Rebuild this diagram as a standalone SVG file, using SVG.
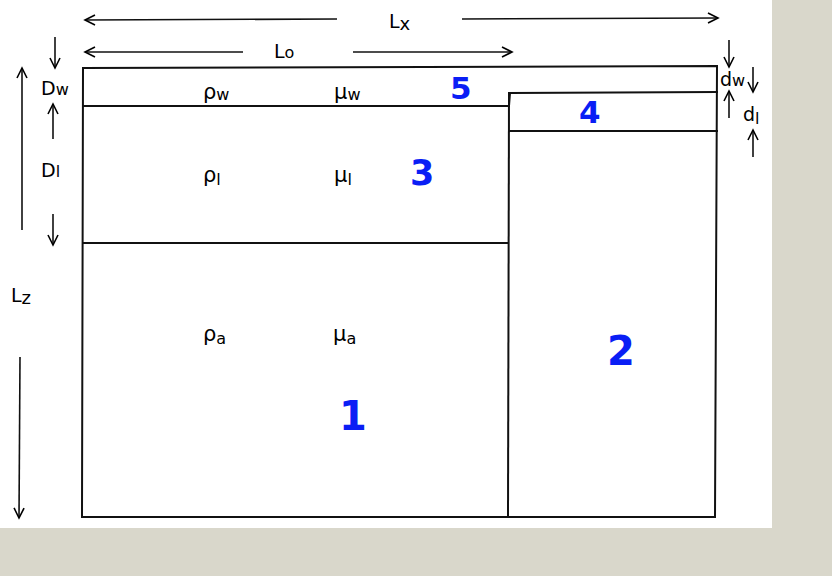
<svg xmlns="http://www.w3.org/2000/svg" width="832" height="576" viewBox="0 0 832 576">
<defs>
<marker id="ah" markerUnits="userSpaceOnUse" markerWidth="14" markerHeight="14" viewBox="0 0 14 14" refX="12" refY="7" orient="auto">
<path d="M2,2 L12,7 L2,12" fill="none" stroke="#000" stroke-width="1.6"/>
</marker>
</defs>
<style>
.ln{fill:none;stroke:#111;stroke-width:2;stroke-linecap:square}
.ar{fill:none;stroke:#111;stroke-width:1.6;marker-end:url(#ah)}
.lb{font-family:"DejaVu Sans",sans-serif;font-size:19px;fill:#000}
.sb{font-size:16px}
.gk{font-family:"DejaVu Sans",sans-serif;font-size:21px;fill:#000}
.num{font-family:"DejaVu Sans",sans-serif;font-weight:bold;fill:#0a1ef5}
</style>
<rect x="0" y="0" width="832" height="576" fill="#d9d7cb"/>
<rect x="0" y="0" width="772" height="528" fill="#fff"/>

<g id="domain">
<path class="ln" d="M83,68 L717,66 L715,517 L82,517 Z"/>
</g>
<g id="layer5">
<path class="ln" d="M83,106 L509,106 L510,93 L717,92"/>
</g>
<g id="layer4">
<path class="ln" d="M510,131 L717,131"/>
</g>
<g id="divider">
<path class="ln" d="M509,93 L508,517"/>
</g>
<g id="layer3">
<path class="ln" d="M83,243 L508,243"/>
</g>

<g id="connectors">
<line class="ar" x1="337" y1="19" x2="85" y2="20"/>
<line class="ar" x1="462" y1="19" x2="718" y2="18"/>
<line class="ar" x1="243" y1="52" x2="85" y2="52"/>
<line class="ar" x1="353" y1="52" x2="512" y2="52"/>
<line class="ar" x1="55" y1="37" x2="55" y2="68"/>
<line class="ar" x1="53" y1="139" x2="53" y2="104"/>
<line class="ar" x1="53" y1="214" x2="53" y2="245"/>
<line class="ar" x1="22" y1="230" x2="22" y2="68"/>
<line class="ar" x1="20" y1="357" x2="19" y2="518"/>
<line class="ar" x1="729" y1="40" x2="729" y2="67"/>
<line class="ar" x1="753" y1="67" x2="753" y2="92"/>
<line class="ar" x1="729" y1="118" x2="729" y2="91"/>
<line class="ar" x1="753" y1="157" x2="753" y2="130"/>
</g>

<g id="labels">
<text class="lb" x="389" y="28">L<tspan font-size="18" dy="2">x</tspan></text>
<text class="lb" x="274" y="58">L<tspan class="sb">o</tspan></text>
<text class="lb" x="41" y="95">D<tspan class="sb">w</tspan></text>
<text class="lb" x="41" y="177">D<tspan class="sb">l</tspan></text>
<text class="lb" x="11" y="302">L<tspan font-size="18" dy="2">z</tspan></text>
<text class="lb" x="720" y="86">d<tspan class="sb">w</tspan></text>
<text class="lb" x="743" y="121">d<tspan class="sb" dy="3">l</tspan></text>
</g>

<g id="props">
<text class="gk" x="203" y="99">ρ<tspan class="sb" dy="1">w</tspan></text>
<text class="gk" x="334" y="99">μ<tspan class="sb" dy="1">w</tspan></text>
<text class="gk" x="203" y="182">ρ<tspan class="sb" dy="3">l</tspan></text>
<text class="gk" x="334" y="182">μ<tspan class="sb" dy="3">l</tspan></text>
<text class="gk" x="203" y="341">ρ<tspan class="sb" dy="3">a</tspan></text>
<text class="gk" x="333" y="341">μ<tspan class="sb" dy="3">a</tspan></text>
</g>

<g id="regions">
<text class="num" x="450" y="99" font-size="31">5</text>
<text class="num" x="579" y="123" font-size="31">4</text>
<text class="num" x="410" y="185" font-size="35">3</text>
<text class="num" x="339" y="430" font-size="40">1</text>
<text class="num" x="607" y="365" font-size="40">2</text>
</g>
</svg>
